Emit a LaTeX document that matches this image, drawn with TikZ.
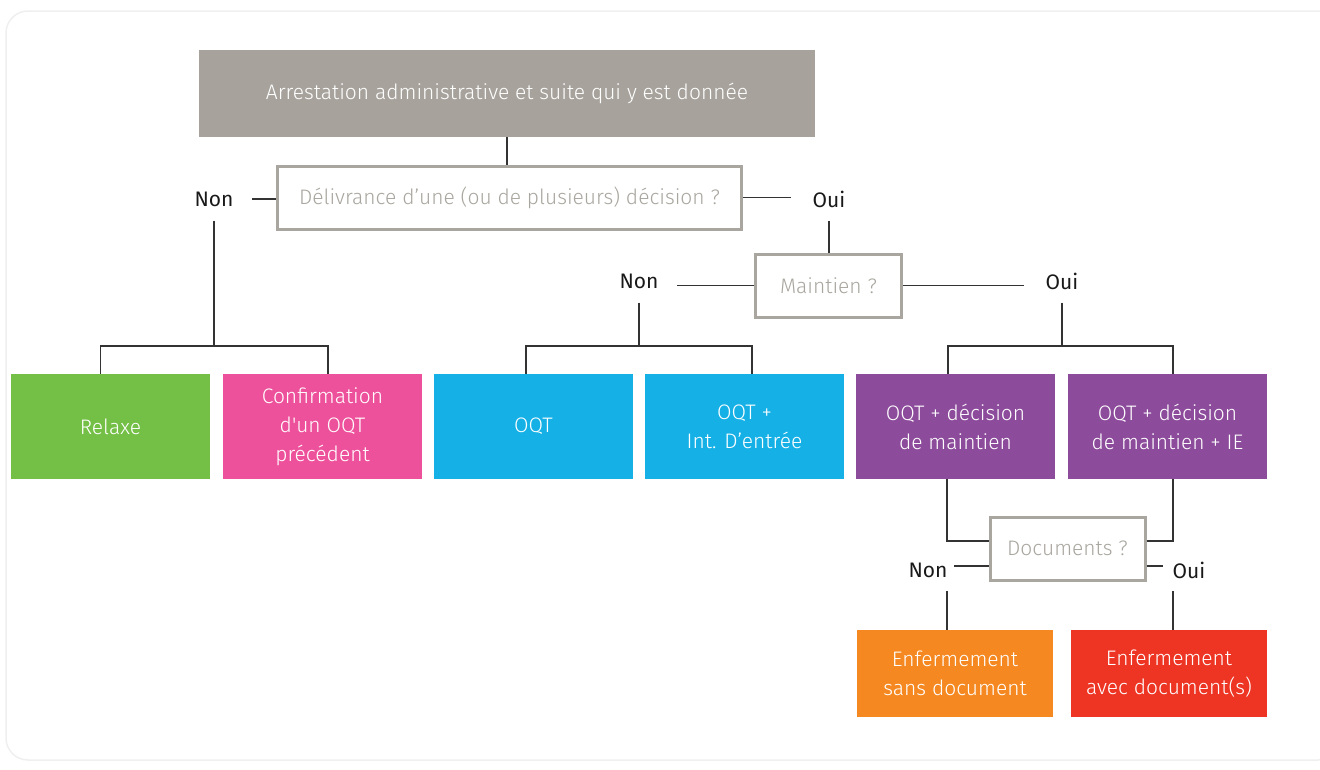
\documentclass[tikz,border=0pt]{standalone}
\usepackage{fontspec}
\setmainfont{Fira Sans}
\newfontfamily\lightfont{Fira Sans Light}
\definecolor{cgray}{HTML}{A7A39C}
\definecolor{qgray}{HTML}{A9A69F}
\definecolor{cgreen}{HTML}{74BF46}
\definecolor{cpink}{HTML}{EE519B}
\definecolor{ccyan}{HTML}{15B1E6}
\definecolor{cpurple}{HTML}{8C4B9B}
\definecolor{corange}{HTML}{F58820}
\definecolor{cred}{HTML}{EE3524}
\definecolor{cline}{HTML}{333333}
\definecolor{cframe}{HTML}{EFEFEF}
\tikzset{
  every node/.style={font=\fontsize{21}{29}\selectfont, align=center},
  box/.style={rectangle, inner sep=0pt, text=white, font=\lightfont\fontsize{21}{29}\selectfont, minimum width=199pt, minimum height=105pt},
  qbox/.style={rectangle, draw=qgray, line width=3pt, fill=white, text=qgray, font=\lightfont\fontsize{21}{29}\selectfont, inner sep=0pt, minimum height=63pt},
  lab/.style={inner sep=0pt, text=black!90, minimum width=76pt, minimum height=43pt},
  slab/.style={inner sep=0pt, text=black!90, minimum width=52pt, minimum height=42pt},
  conn/.style={draw=cline, line width=1.5pt},
}
\begin{document}
\begin{tikzpicture}[x=1pt,y=-1pt]
\useasboundingbox (0,0) rectangle (1320,769);
\draw[cframe, line width=1.5pt, rounded corners=22pt] (6,11) rectangle (1340,760);

% top
\node[box, fill=cgray, minimum width=616pt, minimum height=87pt] (top) at (507,93.5) {Arrestation administrative et suite qui y est donnée};
\node[qbox, minimum width=464pt] (q1) at (509.5,197.5) {Délivrance d’une (ou de plusieurs) décision ?};
\node[lab] (non1) at (214,199) {Non};
\node[lab] (oui1) at (829,199) {Oui};
\node[qbox, minimum width=146pt] (q2) at (828.5,285.5) {Maintien ?};
\node[lab] (non2) at (639,281) {Non};
\node[lab] (oui2) at (1062,281) {Oui};

% row of results
\node[box, fill=cgreen] (relaxe) at (110.5,426.5) {Relaxe};
\node[box, fill=cpink] (conf) at (322.5,426.5) {Confirmation\\d'un OQT\\précédent};
\node[box, fill=ccyan] (oqt) at (533.5,426.5) {OQT};
\node[box, fill=ccyan] (oqtie) at (744.5,426.5) {OQT +\\Int. D’entrée};
\node[box, fill=cpurple] (oqtm) at (955.5,426.5) {OQT + décision\\de maintien};
\node[box, fill=cpurple] (oqtmie) at (1167.5,426.5) {OQT + décision\\de maintien + IE};

% documents
\node[qbox, minimum width=155pt] (q3) at (1067.5,548.5) {Documents ?};
\node[slab] (non3) at (928,570) {Non};
\node[slab] (oui3) at (1189,570) {Oui};
\node[box, fill=corange, minimum width=196pt, minimum height=87pt] (sans) at (955,673.5) {Enfermement\\sans document};
\node[box, fill=cred, minimum width=196pt, minimum height=87pt] (avec) at (1169,673.5) {Enfermement\\avec document(s)};

\coordinate (bus) at (0,346);
\coordinate (djoin) at (0,541);
\coordinate (dlab) at (0,566);
\coordinate (lx) at (947,0);
\coordinate (rx) at (1173,0);

% connectors
\draw[conn] (top.south) -- (top.south |- q1.north);
\draw[conn] (non1.east) -- (q1.west |- non1.east);
\draw[conn] (q1.east) -- (oui1.west |- q1.east);
\draw[conn] (oui1.south) -- (oui1.south |- q2.north);
\draw[conn] (non2.east |- q2.west) -- (q2.west);
\draw[conn] (q2.east) -- (oui2.west |- q2.east);

\draw[conn] (non1.south) -- (non1.south |- bus);
\draw[conn] ([xshift=-10pt]relaxe.north) -- ([xshift=-10pt]relaxe.north |- bus) -- ([xshift=5.5pt]conf.north |- bus) -- ([xshift=5.5pt]conf.north);
\draw[conn] (non2.south) -- (non2.south |- bus);
\draw[conn] ([xshift=-7.5pt]oqt.north) -- ([xshift=-7.5pt]oqt.north |- bus) -- ([xshift=7.5pt]oqtie.north |- bus) -- ([xshift=7.5pt]oqtie.north);
\draw[conn] (oui2.south) -- (oui2.south |- bus);
\draw[conn] ([xshift=-7.5pt]oqtm.north) -- ([xshift=-7.5pt]oqtm.north |- bus) -- ([xshift=5.5pt]oqtmie.north |- bus) -- ([xshift=5.5pt]oqtmie.north);

\draw[conn] (lx |- oqtm.south) -- (lx |- djoin) -- (q3.west |- djoin);
\draw[conn] (rx |- oqtmie.south) -- (rx |- djoin) -- (q3.east |- djoin);
\draw[conn] (non3.east |- dlab) -- (q3.west |- dlab);
\draw[conn] (q3.east |- dlab) -- (oui3.west |- dlab);
\draw[conn] (lx |- non3.south) -- (lx |- sans.north);
\draw[conn] (rx |- oui3.south) -- (rx |- avec.north);
\end{tikzpicture}
\end{document}
